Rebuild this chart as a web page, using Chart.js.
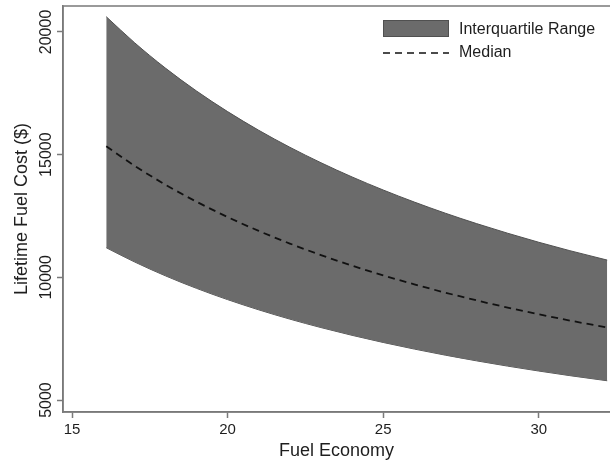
<!DOCTYPE html>
<html>
<head>
<meta charset="utf-8">
<script src="https://cdn.jsdelivr.net/npm/chart.js@4.4.1/dist/chart.umd.min.js"></script>
<style>
  html, body { margin: 0; padding: 0; background: #ffffff; }
  canvas { display: block; }
</style>
</head>
<body>
<canvas id="fuel-chart" width="610" height="465"></canvas>
<script>
'use strict';
// ***** DATA *****
let fuelEconomy = [16.1, 17, 18, 19, 20, 21, 22, 23, 24, 25, 26, 27, 28, 29, 30, 31, 32.2];
let upperQuartile = [20622, 19572, 18528, 17594, 16754, 15993, 15301, 14670, 14091, 13559, 13068, 12612, 12190, 11797, 11429, 11086, 10703];
let medianCost = [15337, 14555, 13778, 13083, 12458, 11891, 11377, 10907, 10476, 10080, 9714, 9376, 9061, 8768, 8495, 8239, 7955];
let lowerQuartile = [11207, 10633, 10062, 9552, 9092, 8676, 8298, 7953, 7637, 7346, 7077, 6828, 6597, 6382, 6182, 5994, 5785];
let xTickValues = [15, 20, 25, 30];
let yTickValues = [5000, 10000, 15000, 20000];

// ***** COLOURS / FONTS *****
let bandFill = '#6b6b6b';
let bandEdge = '#505050';
let frameColor = '#7a7a7a';
let textColor = '#1e1e1e';
let fontFamily = '"Liberation Sans", Arial, Helvetica, sans-serif';

// pair x values with a series
function toPoints(values) {
  return fuelEconomy.map((x, i) => ({ x: x, y: values[i] }));
}

// ***** PLUGINS *****
// rotated y tick labels, plot frame and legend
let decorPlugin = {
  id: 'decor',
  afterDraw(chart) {
    let ctx = chart.ctx;
    let area = chart.chartArea;
    let yScale = chart.scales.y;

    // frame round the plot
    ctx.save();
    ctx.strokeStyle = frameColor;
    ctx.lineWidth = 1.5;
    ctx.strokeRect(area.left, area.top, area.right - area.left + 4, area.bottom - area.top);
    ctx.restore();

    // y tick labels, reading bottom to top
    ctx.save();
    ctx.fillStyle = textColor;
    ctx.font = '16px ' + fontFamily;
    ctx.textAlign = 'center';
    ctx.textBaseline = 'alphabetic';
    yTickValues.forEach((value) => {
      let y = yScale.getPixelForValue(value);
      ctx.save();
      ctx.translate(51, y);
      ctx.rotate(-Math.PI / 2);
      ctx.fillText(String(value), 0, 0);
      ctx.restore();
    });
    ctx.restore();

    // legend in the top right corner
    let datasets = chart.data.datasets;
    ctx.save();
    ctx.fillStyle = bandFill;
    ctx.strokeStyle = bandEdge;
    ctx.lineWidth = 1;
    ctx.fillRect(383, 20, 66, 17);
    ctx.strokeRect(383.5, 20.5, 65, 16);
    ctx.strokeStyle = '#111111';
    ctx.lineWidth = 1.6;
    ctx.setLineDash([7, 5]);
    ctx.beginPath();
    ctx.moveTo(383, 53);
    ctx.lineTo(449, 53);
    ctx.stroke();
    ctx.setLineDash([]);
    ctx.fillStyle = textColor;
    ctx.font = '16px ' + fontFamily;
    ctx.textAlign = 'left';
    ctx.textBaseline = 'middle';
    ctx.fillText(datasets[0].label, 459, 30);
    ctx.fillText(datasets[2].label, 459, 53);
    ctx.restore();
  }
};

// ***** CHART *****
let chartConfig = {
  type: 'line',
  data: {
    datasets: [
      {
        label: 'Interquartile Range',
        data: toPoints(upperQuartile),
        borderColor: bandEdge,
        borderWidth: 1,
        backgroundColor: bandFill,
        fill: '+1',
        pointRadius: 0,
        order: 1,
        cubicInterpolationMode: 'monotone'
      },
      {
        label: 'Lower Quartile',
        data: toPoints(lowerQuartile),
        borderColor: bandEdge,
        borderWidth: 1,
        fill: false,
        pointRadius: 0,
        order: 2,
        cubicInterpolationMode: 'monotone'
      },
      {
        label: 'Median',
        data: toPoints(medianCost),
        borderColor: '#111111',
        borderWidth: 1.8,
        borderDash: [7, 5],
        fill: false,
        pointRadius: 0,
        order: 0,
        cubicInterpolationMode: 'monotone'
      }
    ]
  },
  options: {
    responsive: false,
    animation: false,
    devicePixelRatio: 1,
    layout: { padding: { top: 6, right: 0, left: 0, bottom: 0 } },
    plugins: {
      legend: { display: false },
      tooltip: { enabled: false }
    },
    scales: {
      x: {
        type: 'linear',
        min: 14.71,
        max: 32.29,
        afterBuildTicks: (scale) => { scale.ticks = xTickValues.map((v) => ({ value: v })); },
        afterFit: (scale) => { scale.height = 53; },
        grid: { drawOnChartArea: false, drawTicks: true, tickLength: 6, tickColor: frameColor, tickWidth: 1.5 },
        border: { display: true, color: frameColor, width: 1.5 },
        ticks: { color: textColor, font: { family: fontFamily, size: 15 }, padding: 3, maxRotation: 0 },
        title: {
          display: true,
          text: 'Fuel Economy',
          color: textColor,
          font: { family: fontFamily, size: 18 },
          padding: { top: 0, bottom: 3 }
        }
      },
      y: {
        type: 'linear',
        min: 4512,
        max: 21057,
        afterBuildTicks: (scale) => { scale.ticks = yTickValues.map((v) => ({ value: v })); },
        afterFit: (scale) => { scale.width = 63; },
        grid: { drawOnChartArea: false, drawTicks: true, tickLength: 6, tickColor: frameColor, tickWidth: 1.5 },
        border: { display: true, color: frameColor, width: 1.5 },
        ticks: { display: false },
        title: {
          display: true,
          text: 'Lifetime Fuel Cost ($)',
          color: textColor,
          font: { family: fontFamily, size: 18 },
          padding: { top: 11, bottom: 0 }
        }
      }
    }
  },
  plugins: [decorPlugin]
};

new Chart(document.getElementById('fuel-chart'), chartConfig);
</script>
</body>
</html>
